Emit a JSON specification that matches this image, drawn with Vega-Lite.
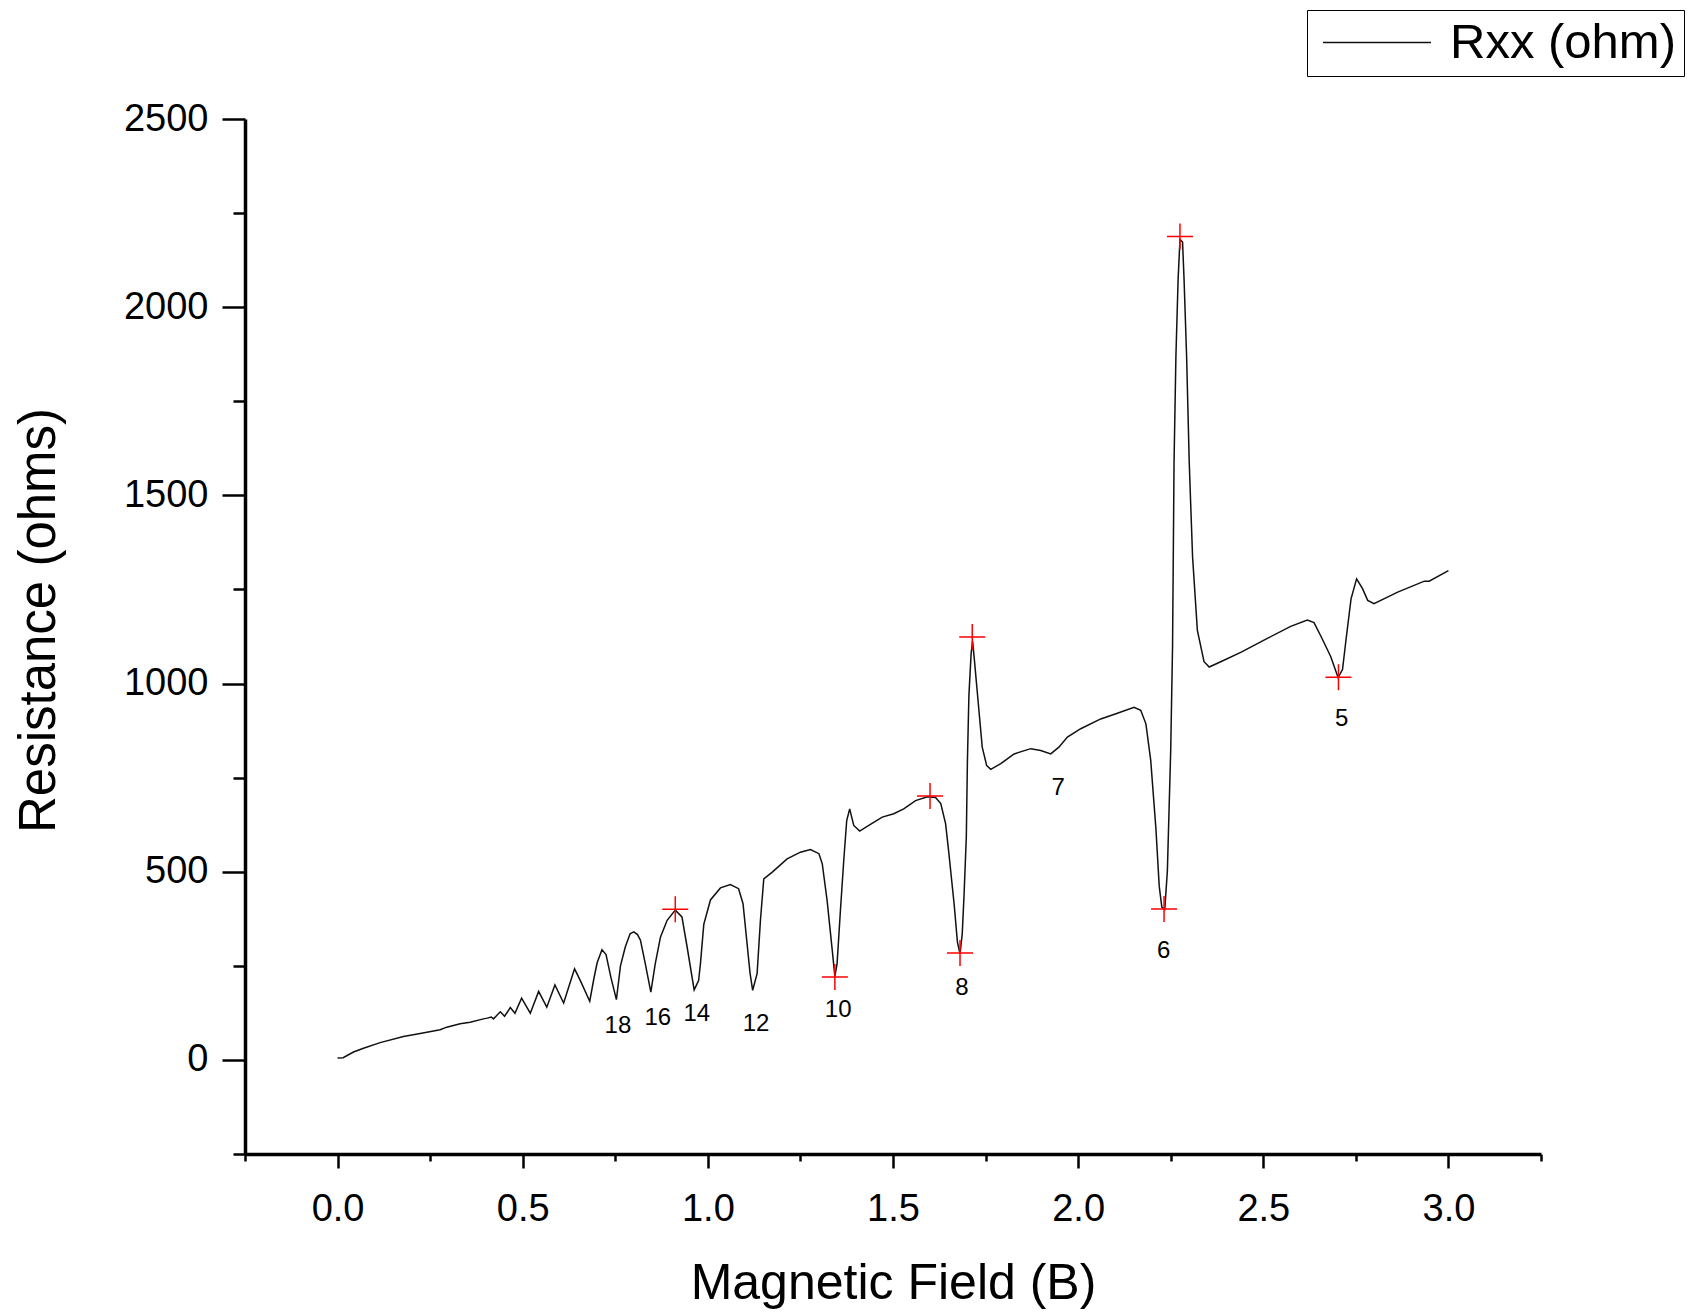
{
  "$schema": "https://vega.github.io/schema/vega-lite/v6.json",
  "autosize": {"type": "none"},
  "padding": {"left": 245, "top": 119, "right": 149, "bottom": 159},
  "width": 1296,
  "height": 1035,
  "background": "white",
  "config": {
    "view": {"stroke": null},
    "font": "Liberation Sans",
    "axis": {
      "grid": false,
      "domainColor": "black",
      "domainWidth": 3.5,
      "tickColor": "black",
      "tickWidth": 2.5,
      "labelFont": "Liberation Sans",
      "labelColor": "black",
      "labelFontSize": 38,
      "titleFont": "Liberation Sans",
      "titleColor": "black",
      "titleFontWeight": "normal"
    }
  },
  "datasets": {
    "curve": [
      {"B": 0.000, "R": 5}, {"B": 0.015, "R": 6}, {"B": 0.043, "R": 21}, {"B": 0.070, "R": 31},
      {"B": 0.115, "R": 46}, {"B": 0.178, "R": 62}, {"B": 0.223, "R": 70}, {"B": 0.277, "R": 80},
      {"B": 0.295, "R": 87}, {"B": 0.331, "R": 96}, {"B": 0.358, "R": 100}, {"B": 0.394, "R": 109},
      {"B": 0.404, "R": 111}, {"B": 0.415, "R": 114}, {"B": 0.421, "R": 109}, {"B": 0.4395, "R": 128},
      {"B": 0.451, "R": 116}, {"B": 0.4665, "R": 139}, {"B": 0.479, "R": 124}, {"B": 0.497, "R": 164},
      {"B": 0.5205, "R": 124}, {"B": 0.543, "R": 182}, {"B": 0.565, "R": 140}, {"B": 0.587, "R": 199},
      {"B": 0.6105, "R": 151}, {"B": 0.640, "R": 242}, {"B": 0.656, "R": 210}, {"B": 0.681, "R": 156},
      {"B": 0.692, "R": 215}, {"B": 0.701, "R": 258}, {"B": 0.714, "R": 293}, {"B": 0.725, "R": 280},
      {"B": 0.738, "R": 220}, {"B": 0.753, "R": 160}, {"B": 0.764, "R": 250}, {"B": 0.777, "R": 300},
      {"B": 0.790, "R": 335}, {"B": 0.800, "R": 340}, {"B": 0.810, "R": 333}, {"B": 0.818, "R": 318},
      {"B": 0.831, "R": 256}, {"B": 0.846, "R": 180}, {"B": 0.858, "R": 256}, {"B": 0.872, "R": 326},
      {"B": 0.890, "R": 371}, {"B": 0.912, "R": 398}, {"B": 0.930, "R": 380}, {"B": 0.944, "R": 300},
      {"B": 0.963, "R": 186}, {"B": 0.975, "R": 211}, {"B": 0.980, "R": 256}, {"B": 0.989, "R": 360},
      {"B": 1.007, "R": 425}, {"B": 1.034, "R": 457}, {"B": 1.061, "R": 466}, {"B": 1.083, "R": 455},
      {"B": 1.095, "R": 415}, {"B": 1.106, "R": 308}, {"B": 1.114, "R": 230}, {"B": 1.121, "R": 185},
      {"B": 1.133, "R": 229}, {"B": 1.142, "R": 371}, {"B": 1.151, "R": 481}, {"B": 1.174, "R": 499},
      {"B": 1.214, "R": 534}, {"B": 1.250, "R": 552}, {"B": 1.277, "R": 559}, {"B": 1.300, "R": 548},
      {"B": 1.309, "R": 521}, {"B": 1.322, "R": 424}, {"B": 1.336, "R": 291}, {"B": 1.343, "R": 222},
      {"B": 1.349, "R": 256}, {"B": 1.358, "R": 397}, {"B": 1.367, "R": 530}, {"B": 1.375, "R": 636},
      {"B": 1.383, "R": 667}, {"B": 1.394, "R": 623}, {"B": 1.410, "R": 608}, {"B": 1.439, "R": 626},
      {"B": 1.471, "R": 645}, {"B": 1.502, "R": 654}, {"B": 1.529, "R": 667}, {"B": 1.561, "R": 689},
      {"B": 1.593, "R": 699}, {"B": 1.615, "R": 697}, {"B": 1.629, "R": 681}, {"B": 1.642, "R": 628},
      {"B": 1.651, "R": 548}, {"B": 1.665, "R": 415}, {"B": 1.674, "R": 313}, {"B": 1.681, "R": 282},
      {"B": 1.687, "R": 335}, {"B": 1.692, "R": 441}, {"B": 1.698, "R": 592}, {"B": 1.701, "R": 796},
      {"B": 1.705, "R": 968}, {"B": 1.711, "R": 1080}, {"B": 1.715, "R": 1112}, {"B": 1.720, "R": 1061},
      {"B": 1.732, "R": 929}, {"B": 1.741, "R": 831}, {"B": 1.753, "R": 782}, {"B": 1.764, "R": 772},
      {"B": 1.791, "R": 787}, {"B": 1.827, "R": 813}, {"B": 1.872, "R": 827}, {"B": 1.899, "R": 822},
      {"B": 1.926, "R": 813}, {"B": 1.948, "R": 831}, {"B": 1.971, "R": 858}, {"B": 2.007, "R": 880},
      {"B": 2.061, "R": 906}, {"B": 2.106, "R": 921}, {"B": 2.151, "R": 937}, {"B": 2.169, "R": 929},
      {"B": 2.183, "R": 893}, {"B": 2.196, "R": 796}, {"B": 2.210, "R": 615}, {"B": 2.219, "R": 461},
      {"B": 2.226, "R": 406}, {"B": 2.234, "R": 400}, {"B": 2.241, "R": 503}, {"B": 2.250, "R": 823},
      {"B": 2.255, "R": 1101}, {"B": 2.259, "R": 1588}, {"B": 2.264, "R": 1867}, {"B": 2.270, "R": 2075},
      {"B": 2.275, "R": 2180}, {"B": 2.282, "R": 2173}, {"B": 2.286, "R": 2075}, {"B": 2.293, "R": 1867},
      {"B": 2.300, "R": 1588}, {"B": 2.309, "R": 1337}, {"B": 2.322, "R": 1141}, {"B": 2.340, "R": 1058},
      {"B": 2.354, "R": 1044}, {"B": 2.385, "R": 1058}, {"B": 2.439, "R": 1083}, {"B": 2.511, "R": 1120},
      {"B": 2.574, "R": 1152}, {"B": 2.619, "R": 1169}, {"B": 2.637, "R": 1162}, {"B": 2.655, "R": 1127},
      {"B": 2.682, "R": 1072}, {"B": 2.702, "R": 1016}, {"B": 2.714, "R": 1037}, {"B": 2.723, "R": 1113},
      {"B": 2.737, "R": 1225}, {"B": 2.752, "R": 1278}, {"B": 2.768, "R": 1252}, {"B": 2.782, "R": 1221},
      {"B": 2.799, "R": 1212}, {"B": 2.863, "R": 1243}, {"B": 2.935, "R": 1272}, {"B": 2.948, "R": 1272},
      {"B": 3.000, "R": 1300}
    ],
    "marks": [
      {"B": 0.912, "R": 400}, {"B": 1.343, "R": 220}, {"B": 1.600, "R": 701}, {"B": 1.681, "R": 284},
      {"B": 1.714, "R": 1124}, {"B": 2.232, "R": 401}, {"B": 2.275, "R": 2188}, {"B": 2.703, "R": 1017}
    ],
    "labels": [
      {"B": 0.757, "R": 89, "label": "18"}, {"B": 0.865, "R": 112, "label": "16"},
      {"B": 0.970, "R": 123, "label": "14"}, {"B": 1.130, "R": 95, "label": "12"},
      {"B": 1.352, "R": 132, "label": "10"}, {"B": 1.686, "R": 192, "label": "8"},
      {"B": 1.946, "R": 722, "label": "7"}, {"B": 2.231, "R": 289, "label": "6"},
      {"B": 2.712, "R": 905, "label": "5"}
    ]
  },
  "layer": [
    {
      "data": {"name": "curve"},
      "transform": [{"calculate": "'Rxx (ohm)'", "as": "series"}],
      "mark": {"type": "line", "strokeWidth": 1.5, "interpolate": "linear"},
      "encoding": {
        "x": {
          "field": "B", "type": "quantitative",
          "scale": {"domain": [-0.25, 3.25], "nice": false, "zero": false},
          "axis": {
            "orient": "bottom",
            "title": "Magnetic Field (B)",
            "titleFontSize": 50,
            "titleX": 648,
            "titleY": 144,
            "titleBaseline": "alphabetic",
            "titleAlign": "center",
            "values": [-0.25, 0, 0.25, 0.5, 0.75, 1, 1.25, 1.5, 1.75, 2, 2.25, 2.5, 2.75, 3, 3.25],
            "labelExpr": "(datum.value % 0.5 === 0 && datum.value >= 0 && datum.value <= 3) ? format(datum.value, '.1f') : ''",
            "tickSize": {"condition": {"test": "datum.value % 0.5 !== 0", "value": 7}, "value": 14},
            "labelPadding": 22,
            "labelFlush": false,
            "labelOverlap": false
          }
        },
        "y": {
          "field": "R", "type": "quantitative",
          "scale": {"domain": [-250, 2500], "nice": false, "zero": false},
          "axis": {
            "orient": "left",
            "title": "Resistance (ohms)",
            "titleFontSize": 51,
            "titleAngle": -90,
            "titleX": -191,
            "titleY": 501,
            "titleBaseline": "alphabetic",
            "titleAlign": "center",
            "values": [-250, 0, 250, 500, 750, 1000, 1250, 1500, 1750, 2000, 2250, 2500],
            "labelExpr": "(datum.value % 500 === 0 && datum.value >= 0) ? format(datum.value, 'd') : ''",
            "tickSize": {"condition": {"test": "datum.value % 500 !== 0", "value": 12}, "value": 23},
            "labelPadding": 14,
            "labelFlush": false,
            "labelOverlap": false
          }
        },
        "color": {
          "field": "series", "type": "nominal",
          "scale": {"domain": ["Rxx (ohm)"], "range": ["#111111"]},
          "legend": {
            "orient": "none",
            "legendX": 1062,
            "legendY": -109,
            "title": null,
            "strokeColor": "black",
            "padding": 8,
            "symbolType": "M-8.25,0L45.75,0",
            "symbolSize": 16,
            "symbolStrokeWidth": 1.5,
            "symbolStrokeColor": "#111111",
            "labelFont": "Liberation Sans",
            "labelFontSize": 49,
            "labelColor": "black",
            "labelOffset": 86,
            "labelLimit": 500,
            "labelBaseline": "middle"
          }
        }
      }
    },
    {
      "data": {"name": "marks"},
      "mark": {"type": "point", "shape": "M-1,0L1,0M0,-1L0,1", "size": 676, "filled": false, "stroke": "#ff0000", "strokeWidth": 1.5, "opacity": 1},
      "encoding": {
        "x": {"field": "B", "type": "quantitative"},
        "y": {"field": "R", "type": "quantitative"}
      }
    },
    {
      "data": {"name": "labels"},
      "mark": {"type": "text", "font": "Liberation Sans", "fontSize": 24, "color": "black", "align": "center", "baseline": "middle"},
      "encoding": {
        "x": {"field": "B", "type": "quantitative"},
        "y": {"field": "R", "type": "quantitative"},
        "text": {"field": "label", "type": "nominal"}
      }
    }
  ]
}
